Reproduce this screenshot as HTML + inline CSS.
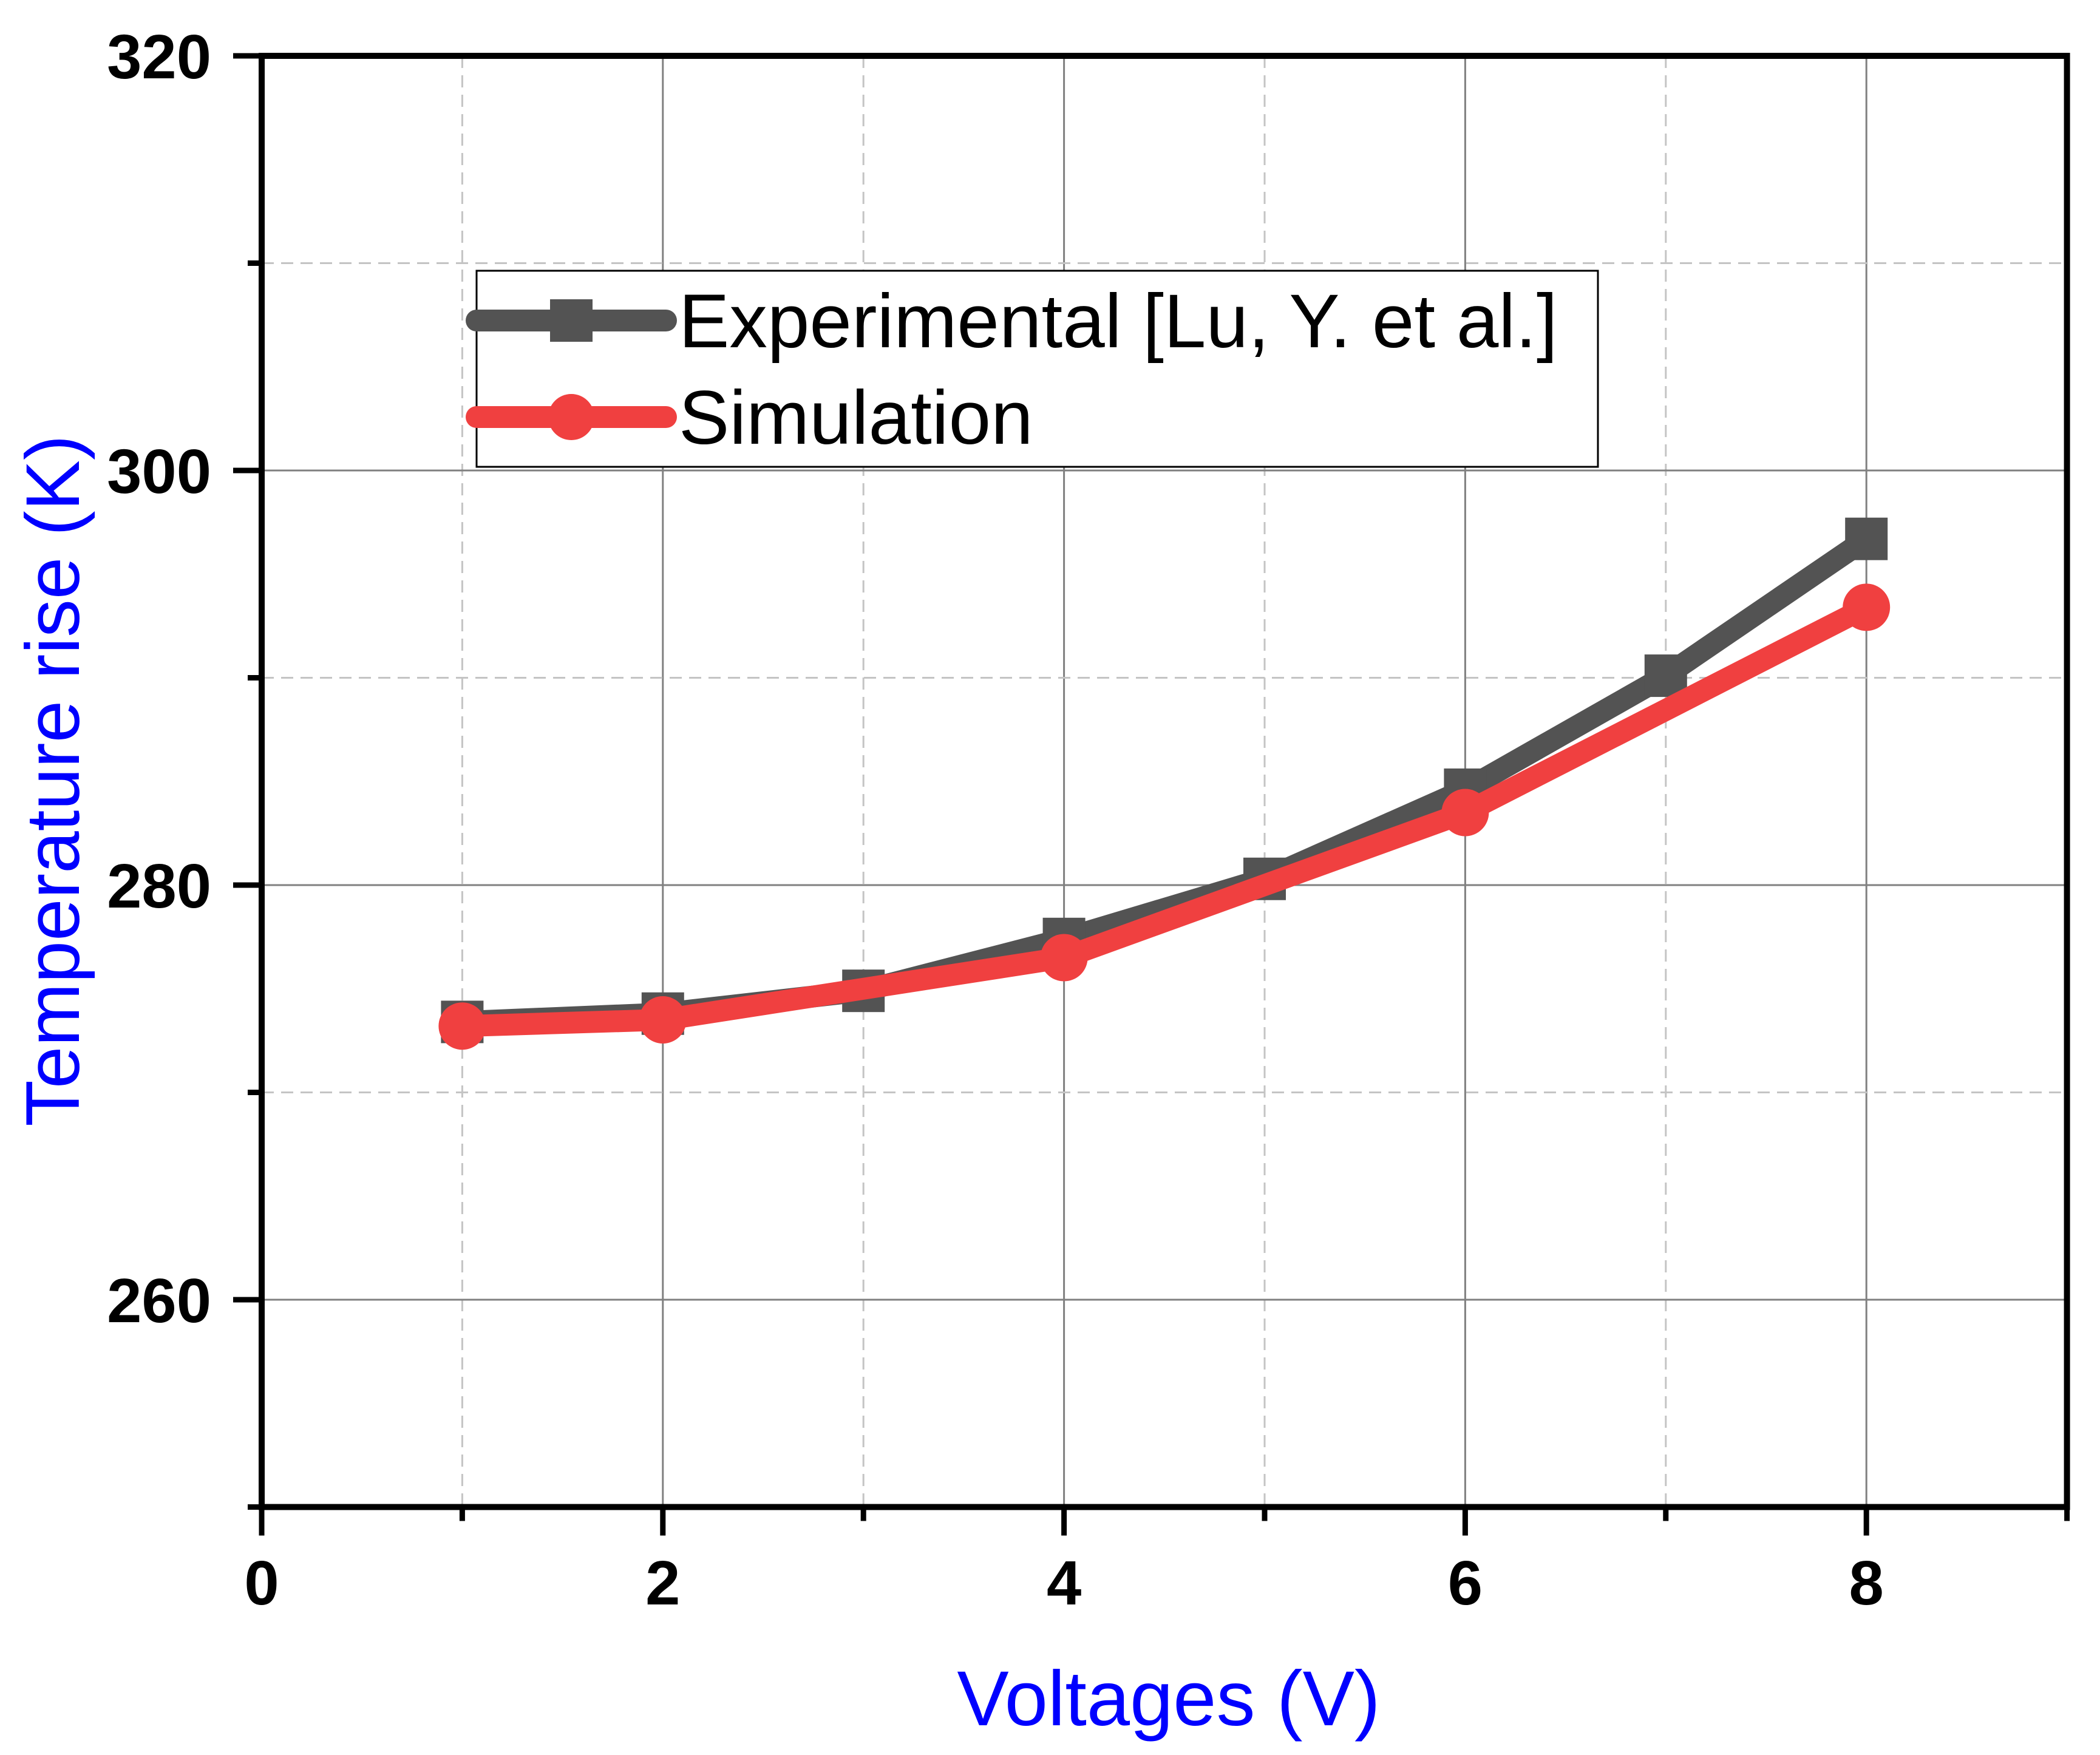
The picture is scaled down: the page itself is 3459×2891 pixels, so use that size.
<!DOCTYPE html>
<html><head><meta charset="utf-8"><style>
html,body{margin:0;padding:0;background:#fff}
svg{display:block}
text{font-family:"Liberation Sans",Arial,sans-serif}
</style></head><body>
<svg id="chart" width="3459" height="2891" viewBox="0 0 3459 2891" xmlns="http://www.w3.org/2000/svg">
<g id="grid"></g>
<g id="axes"></g>
<g id="series"></g>
<g id="legend">
  <rect x="785" y="446" width="1847" height="323" fill="#fff" stroke="#000" stroke-width="3"/>
  <line x1="785" y1="528" x2="1097" y2="528" stroke="#535353" stroke-width="36" stroke-linecap="round"/>
  <rect x="906" y="493" width="70" height="70" fill="#535353"/>
  <text x="1118" y="572" font-size="125" fill="#000">Experimental [Lu, Y. et al.]</text>
  <line x1="785" y1="687" x2="1097" y2="687" stroke="#F04040" stroke-width="36" stroke-linecap="round"/>
  <circle cx="941" cy="687" r="38" fill="#F04040"/>
  <text x="1118" y="731" font-size="125" fill="#000">Simulation</text>
</g>
<text x="1925" y="2842" font-size="128" fill="#0000FF" text-anchor="middle">Voltages (V)</text>
<text transform="translate(130,1286) rotate(-90)" font-size="125" fill="#0000FF" text-anchor="middle">Temperature rise (K)</text>
</svg>
<script>
const voltages = [1, 2, 3, 4, 5, 6, 7, 8];
const experimental = [273.4, 273.8, 274.9, 277.4, 280.3, 284.6, 290.1, 296.7];
const simVoltages = [1, 2, 4, 6, 8];
const simulation = [273.2, 273.5, 276.5, 283.5, 293.4];
const xTickLabels = ["0", "2", "4", "6", "8"];
const yTickLabels = ["260", "280", "300", "320"];

const NS = "http://www.w3.org/2000/svg";
const X0 = 431, XU = 330.4, Y0 = 92, YU = 34.15;
const xs = v => X0 + v * XU;
const ys = v => Y0 + (320 - v) * YU;
function mk(tag, attrs, parent) {
  const e = document.createElementNS(NS, tag);
  for (const k in attrs) e.setAttribute(k, attrs[k]);
  parent.appendChild(e);
  return e;
}
const grid = document.getElementById('grid');
const axes = document.getElementById('axes');
const series = document.getElementById('series');
const L = xs(0), R = xs(9), T = ys(320), B = ys(250);

for (let v = 1; v <= 8; v++) {
  const major = v % 2 === 0;
  const g = mk('line', {x1: xs(v), x2: xs(v), y1: T, y2: B, stroke: major ? '#808080' : '#C4C4C4', 'stroke-width': 3, 'stroke-dasharray': major ? 'none' : '20 12'}, grid);
  
  
}
for (let v = 260; v < 320; v += 10) {
  const major = v % 20 === 0;
  const g = mk('line', {x1: L, x2: R, y1: ys(v), y2: ys(v), stroke: major ? '#808080' : '#C4C4C4', 'stroke-width': 3, 'stroke-dasharray': major ? 'none' : '20 12'}, grid);
  
  
}
const frame = mk('rect', {x: L, y: T, width: R - L, height: B - T, fill: 'none', stroke: '#000', 'stroke-width': 10}, axes);


for (let v = 0; v <= 9; v++) {
  const major = v % 2 === 0;
  const t = mk('line', {x1: xs(v), x2: xs(v), y1: B, y2: B + (major ? 47 : 23), stroke: '#000', 'stroke-width': 9}, axes);
  
  
}
xTickLabels.forEach(s => {
  const v = parseFloat(s);
  const t = mk('text', {x: xs(v), y: 2643, 'font-size': 103, 'font-weight': 'bold', 'text-anchor': 'middle', fill: '#000'}, axes);
  t.textContent = s;
  
  
});
for (let v = 250; v <= 320; v += 10) {
  const major = v % 20 === 0;
  const t = mk('line', {x1: L - (major ? 47 : 23), x2: L, y1: ys(v), y2: ys(v), stroke: '#000', 'stroke-width': 9}, axes);
  
  
}
yTickLabels.forEach(s => {
  const v = parseFloat(s);
  const t = mk('text', {x: 348, y: ys(v) + 37, 'font-size': 103, 'font-weight': 'bold', 'text-anchor': 'end', fill: '#000'}, axes);
  t.textContent = s;
  
  
});
function drawSeries(xv, vals, color, name, square) {
  const pts = xv.map((v, i) => xs(v) + ',' + ys(vals[i])).join(' ');
  const pl = mk('polyline', {points: pts, fill: 'none', stroke: color, 'stroke-width': 36, 'stroke-linejoin': 'miter'}, series);
  
  
  xv.forEach((v, i) => {
    let m;
    if (square) m = mk('rect', {x: xs(v) - 35, y: ys(vals[i]) - 35, width: 70, height: 70, fill: color}, series);
    else m = mk('circle', {cx: xs(v), cy: ys(vals[i]), r: 39, fill: color}, series);
    
    
  });
}
drawSeries(voltages, experimental, '#535353', 'experimental', true);
drawSeries(simVoltages, simulation, '#F04040', 'simulation', false);
</script>
</body></html>
